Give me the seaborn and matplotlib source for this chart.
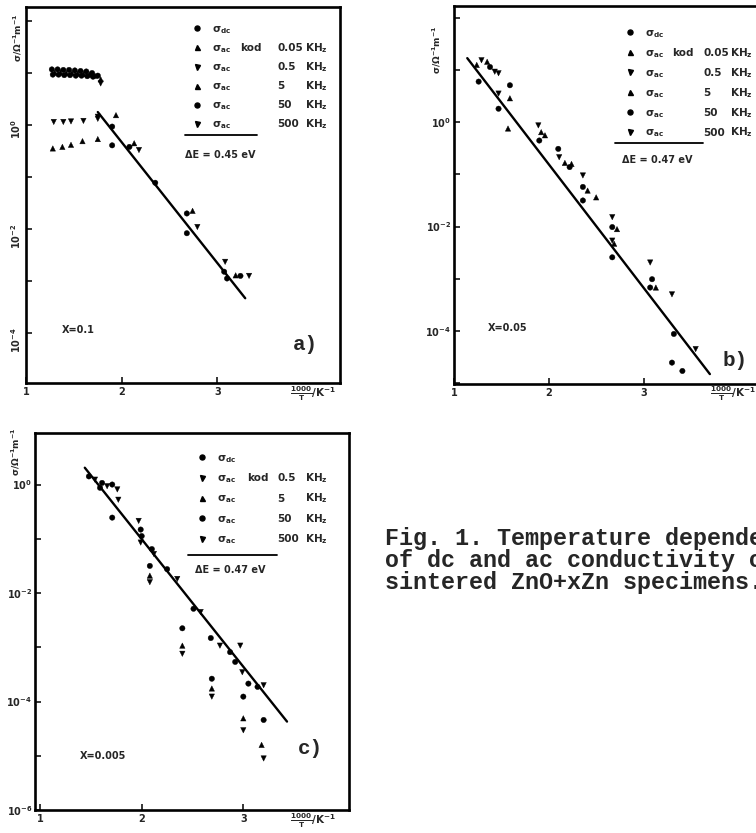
import numpy as np
import pandas as pd
import seaborn as sns
import matplotlib.pyplot as plt
from matplotlib.lines import Line2D
from matplotlib.ticker import FixedLocator, FuncFormatter

W, H = 756, 833

MARKERS = {'dc': 'o', '0.05': '^', '0.5': 'v', '5': '^', '50': 'o', '500': 'v'}

# ---- panel a) x = 0.1   (1000/T in K^-1, log10 sigma)
a_dc_t = [1.27, 1.33, 1.39, 1.45, 1.51, 1.57, 1.63, 1.69, 1.75, 1.90, 2.35, 2.68, 3.07]
a_dc_s = [1.07, 1.07, 1.06, 1.06, 1.05, 1.04, 1.03, 1.00, 0.95, -0.39, -1.11, -2.08, -2.82]
a_005_t = [1.28, 1.38, 1.47, 1.59, 1.75, 1.94]
a_005_s = [-0.45, -0.42, -0.38, -0.31, -0.27, 0.19]
a_05_t = [1.29, 1.39, 1.47, 1.60, 1.75]
a_05_s = [0.06, 0.06, 0.07, 0.08, 0.12]
a_5_t = [1.30, 1.36, 1.42, 1.48, 1.54, 1.60, 1.66, 1.72, 1.78, 2.13, 2.74, 3.19]
a_5_s = [1.01, 1.01, 1.00, 1.00, 0.99, 0.98, 0.97, 0.95, 0.88, -0.35, -1.65, -2.89]
a_50_t = [1.28, 1.34, 1.40, 1.46, 1.52, 1.58, 1.64, 1.70, 1.90, 2.08, 2.68, 3.10, 3.24]
a_50_s = [0.97, 0.97, 0.96, 0.96, 0.95, 0.95, 0.94, 0.93, -0.03, -0.42, -1.70, -2.95, -2.90]
a_500_t = [1.75, 1.78, 2.18, 2.79, 3.08, 3.33]
a_500_s = [0.16, 0.80, -0.48, -1.96, -2.63, -2.90]
a_fit_t = [1.75, 3.29]
a_fit_s = [0.25, -3.33]

# ---- panel b) x = 0.05
b_dc_t = [1.26, 1.47, 1.90, 2.22, 2.36, 2.67, 3.07, 3.30, 3.41]
b_dc_s = [0.78, 0.26, -0.35, -0.86, -1.50, -2.59, -3.17, -4.61, -4.77]
b_005_t = [1.24, 1.57, 1.92, 2.17, 2.41, 2.72, 3.13]
b_005_s = [1.10, -0.12, -0.19, -0.78, -1.31, -2.05, -3.17]
b_05_t = [1.29, 1.47, 1.89, 2.11, 2.36, 2.67, 3.07, 3.30]
b_05_s = [1.19, 0.55, -0.06, -0.67, -1.02, -1.82, -2.69, -3.30]
b_5_t = [1.35, 1.59, 1.96, 2.24, 2.50, 2.69]
b_5_s = [1.16, 0.46, -0.25, -0.80, -1.44, -2.33]
b_50_t = [1.38, 1.59, 2.10, 2.36, 2.67, 3.09, 3.32]
b_50_s = [1.06, 0.71, -0.51, -1.24, -2.01, -3.01, -4.06]
b_500_t = [1.43, 1.47, 2.67, 3.55]
b_500_s = [0.97, 0.94, -2.27, -4.35]
b_fit_t = [1.14, 3.70]
b_fit_s = [1.23, -4.83]

# ---- panel c) x = 0.005
c_dc_t = [2.08, 2.40, 2.69, 3.00, 3.20]
c_dc_s = [-1.50, -2.65, -3.58, -3.91, -4.34]
c_05_t = [2.08, 2.40, 2.69, 3.00, 3.20]
c_05_s = [-1.80, -3.12, -3.91, -4.53, -5.05]
c_5_t = [2.08, 2.40, 2.69, 3.00, 3.18]
c_5_s = [-1.68, -2.97, -3.76, -4.31, -4.80]
c_50_t = [1.48, 1.61, 1.71, 1.59, 1.71, 1.99, 2.00, 2.10, 2.25, 2.51, 2.68, 2.87, 2.92, 3.05, 3.14]
c_50_s = [0.15, 0.03, 0.00, -0.06, -0.61, -0.83, -0.95, -1.19, -1.56, -2.29, -2.83, -3.09, -3.27, -3.67, -3.73]
c_500_t = [1.54, 1.66, 1.76, 1.77, 1.97, 1.99, 2.12, 2.35, 2.58, 2.77, 2.97, 2.99, 3.20]
c_500_s = [0.09, -0.03, -0.09, -0.28, -0.67, -1.07, -1.28, -1.74, -2.35, -2.97, -2.97, -3.46, -3.70]
c_fit_t = [1.44, 3.43]
c_fit_s = [0.31, -4.37]


def frame(parts):
    return pd.concat([pd.DataFrame({'t': t, 'sigma': 10.0 ** np.asarray(s), 'series': n})
                      for n, t, s in parts], ignore_index=True)


def fx(x):
    return x / W


def fy(y):
    return 1 - y / H


sns.set_theme(style='white')
plt.rcParams['font.family'] = ['DejaVu Sans']
plt.rcParams['font.weight'] = 'bold'
plt.rcParams['mathtext.default'] = 'bf'

fig = plt.figure(figsize=(W / 100, H / 100), dpi=100)


def panel(box, df, fit_t, fit_s, xlim, ylim, label_exps, rot):
    x0, y0, x1, y1 = box
    ax = fig.add_axes([fx(x0), fy(y1), (x1 - x0) / W, (y1 - y0) / H])
    sns.scatterplot(data=df, x='t', y='sigma', style='series', markers=MARKERS,
                    color='black', edgecolor='black', linewidth=0.3, s=15,
                    legend=False, ax=ax)
    ax.plot(fit_t, 10.0 ** np.asarray(fit_s), color='black', lw=1.7)
    ax.set_yscale('log')
    ax.set_xlim(*xlim)
    ax.set_ylim(10.0 ** ylim[0], 10.0 ** ylim[1])
    exps = list(range(int(np.ceil(ylim[0])), int(np.floor(ylim[1])) + 1))
    ax.yaxis.set_major_locator(FixedLocator([10.0 ** e for e in exps]))
    ax.yaxis.set_minor_locator(FixedLocator([]))
    ax.yaxis.set_major_formatter(FuncFormatter(
        lambda v, p: '$10^{%d}$' % round(np.log10(v)) if round(np.log10(v)) in label_exps else ''))
    ax.set_xticks([1, 2, 3])
    ax.set_xticklabels(['1', '2', '3'])
    ax.set_xlabel('')
    ax.set_ylabel('')
    ax.tick_params(bottom=True, left=True, direction='in', length=4, width=1.3,
                   labelsize=7, pad=3)
    ax.tick_params(axis='y', labelrotation=rot, pad=2)
    for sp in ax.spines.values():
        sp.set_color('black')
        sp.set_linewidth(1.9)
    return ax


def key(ax, names, left, top, cols, spacing):
    handles = [Line2D([], [], ls='none', marker=MARKERS[n], color='black', markersize=3.6)
               for n in names]
    labels = ['σ$_{dc}$'] + ['σ$_{ac}$'] * (len(names) - 1)
    leg = ax.legend(handles, labels, loc='upper left', bbox_to_anchor=(fx(left), fy(top)),
                    bbox_transform=fig.transFigure, frameon=False, fontsize=7.5,
                    handlelength=0.8, handletextpad=1.0, borderpad=0, borderaxespad=0,
                    labelspacing=spacing)
    fig.canvas.draw()
    for i, t in enumerate(leg.get_texts()):
        base = t.get_transform().transform(t.get_position())[1] / H
        for xpos, txt in cols:
            if i < len(txt) and txt[i]:
                fig.text(fx(xpos), base, txt[i], fontsize=7.5, va='baseline')
    return leg


# panel a
ax_a = panel((26, 7, 340, 383),
             frame([('dc', a_dc_t, a_dc_s), ('0.05', a_005_t, a_005_s), ('0.5', a_05_t, a_05_s),
                    ('5', a_5_t, a_5_s), ('50', a_50_t, a_50_s), ('500', a_500_t, a_500_s)]),
             a_fit_t, a_fit_s, (1.0, 4.28), (-4.96, 2.27), (0, -2, -4), 90)
# panel b
ax_b = panel((454, 6, 762, 384),
             frame([('dc', b_dc_t, b_dc_s), ('0.05', b_005_t, b_005_s), ('0.5', b_05_t, b_05_s),
                    ('5', b_5_t, b_5_s), ('50', b_50_t, b_50_s), ('500', b_500_t, b_500_s)]),
             b_fit_t, b_fit_s, (1.0, 4.25), (-5.02, 2.23), (0, -2, -4), 0)
# panel c
ax_c = panel((35, 433, 349, 810),
             frame([('dc', c_dc_t, c_dc_s), ('0.5', c_05_t, c_05_s), ('5', c_5_t, c_5_s),
                    ('50', c_50_t, c_50_s), ('500', c_500_t, c_500_s)]),
             c_fit_t, c_fit_s, (0.95, 4.04), (-6.0, 0.95), (0, -2, -4, -6), 0)

freq6 = ['', '0.05', '0.5', '5', '50', '500']
khz6 = [''] + ['KH$_z$'] * 5
key(ax_a, ['dc', '0.05', '0.5', '5', '50', '500'], 193, 24,
    [(240, ['', 'kod']), (277, freq6), (305, khz6)], 0.7)
key(ax_b, ['dc', '0.05', '0.5', '5', '50', '500'], 626, 28,
    [(672, ['', 'kod']), (703, freq6), (730, khz6)], 0.78)
key(ax_c, ['dc', '0.5', '5', '50', '500'], 198, 453,
    [(247, ['', 'kod']), (277, ['', '0.5', '5', '50', '500']), (305, [''] + ['KH$_z$'] * 4)], 0.82)

# separator lines and activation energies
for x0, x1, y, xt, yt, txt in [(185, 257, 135, 185, 155, 'ΔE = 0.45 eV'),
                               (615, 703, 143, 622, 160, 'ΔE = 0.47 eV'),
                               (188, 277, 555, 195, 570, 'ΔE = 0.47 eV')]:
    fig.add_artist(Line2D([fx(x0), fx(x1)], [fy(y), fy(y)], color='black', lw=1.3,
                          transform=fig.transFigure))
    fig.text(fx(xt), fy(yt), txt, fontsize=7, va='center')

# composition, panel letters, axis titles
for xt, yt, txt in [(62, 330, 'X=0.1'), (488, 328, 'X=0.05'), (80, 756, 'X=0.005')]:
    fig.text(fx(xt), fy(yt), txt, fontsize=7, va='center')
for xt, yt, txt in [(293, 345, 'a)'), (723, 360, 'b)'), (298, 748, 'c)')]:
    fig.text(fx(xt), fy(yt), txt, fontsize=15, va='center', family='Liberation Mono',
             fontweight='bold')
for xt, yt in [(18, 38), (437, 50), (16, 452)]:
    fig.text(fx(xt), fy(yt), 'σ/Ω$^{-1}$m$^{-1}$', fontsize=6.5, rotation=90,
             ha='center', va='center')
for xt, yt in [(313, 394), (733, 394), (313, 821)]:
    fig.text(fx(xt), fy(yt), r'$\frac{1000}{T}$/K$^{-1}$', fontsize=7.5,
             ha='center', va='center')

# caption
for yt, line in [(538, 'Fig. 1. Temperature dependence'),
                 (561, 'of dc and ac conductivity of'),
                 (583, 'sintered ZnO+xZn specimens.')]:
    fig.text(fx(385), fy(yt), line, fontsize=16.8, family='Liberation Mono',
             fontweight='bold', va='center')

fig.savefig('out.png', dpi=100)
